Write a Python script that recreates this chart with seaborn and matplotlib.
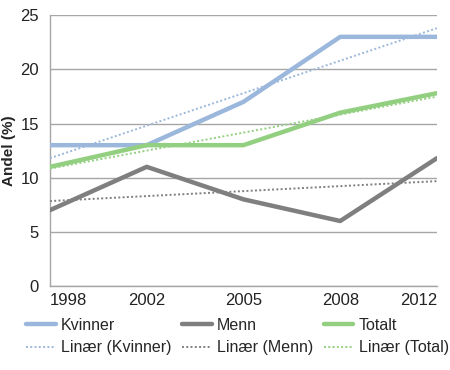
import numpy as np
import pandas as pd
import matplotlib
matplotlib.use('Agg')
import matplotlib.pyplot as plt
import seaborn as sns

# data
years = ['1998', '2002', '2005', '2008', '2012']
kvinner = [13, 13, 17, 23, 23]
menn = [7, 11, 8, 6, 11.8]
totalt = [11, 13, 13, 16, 17.8]

series_names = ['Kvinner', 'Menn', 'Totalt']
trend_names = ['Linær (Kvinner)', 'Linær (Menn)', 'Linær (Total)']
colors = ['#9bb8dc', '#7f7f7f', '#93cf80']
yticks = [0, 5, 10, 15, 20, 25]

sns.set_style('white')
plt.rcParams['font.family'] = ['Liberation Sans', 'DejaVu Sans']

fig = plt.figure(figsize=(4.5, 3.7), dpi=100)
ax = fig.add_axes([0.111, 0.227, 0.86, 0.732])

x = np.arange(len(years))
for name, tname, vals, col in zip(series_names, trend_names,
                                  [kvinner, menn, totalt], colors):
    df = pd.DataFrame({'x': x, 'y': vals})
    sns.lineplot(data=df, x='x', y='y', ax=ax, color=col, linewidth=3.2,
                 label=name, zorder=3)
    # Excel-style linear trendline
    k, b = np.polyfit(x, vals, 1)
    tdf = pd.DataFrame({'x': x, 'y': k * x + b})
    sns.lineplot(data=tdf, x='x', y='y', ax=ax, color=col, linewidth=1.4,
                 linestyle=(0, (1, 1.2)), label=tname, zorder=4)

ax.set_xlim(0, len(years) - 1)
ax.set_ylim(0, 25)
ax.set_xticks(x)
ax.set_xticklabels(years)
ax.set_yticks(yticks)
ax.tick_params(axis='both', labelsize=12, length=0, colors='#222222')
ax.tick_params(axis='y', pad=8)
ax.tick_params(axis='x', pad=5)
# first and last year labels kept inside the plot width, as in Excel
xl = ax.get_xticklabels()
xl[0].set_ha('left')
xl[-1].set_ha('right')
ax.yaxis.grid(True, color='#a6a6a6', linewidth=1)
ax.xaxis.grid(False)
ax.set_axisbelow(True)
ax.set_xlabel('')
ax.set_ylabel('Andel (%)', fontsize=11, fontweight='bold', labelpad=3)
for s in ['top', 'right']:
    ax.spines[s].set_visible(False)
for s in ['left', 'bottom']:
    ax.spines[s].set_color('#a6a6a6')
    ax.spines[s].set_linewidth(1)

h, l = ax.get_legend_handles_labels()
ax.get_legend().remove()
fig.legend(h, l, ncol=3, loc='upper left', bbox_to_anchor=(26 / 450, 1 - 318 / 370),
           frameon=False, fontsize=11.5, handlelength=1.85, handletextpad=0.35,
           columnspacing=0.65, labelspacing=0.45, borderpad=0, borderaxespad=0)

fig.savefig('out.png', dpi=100)
